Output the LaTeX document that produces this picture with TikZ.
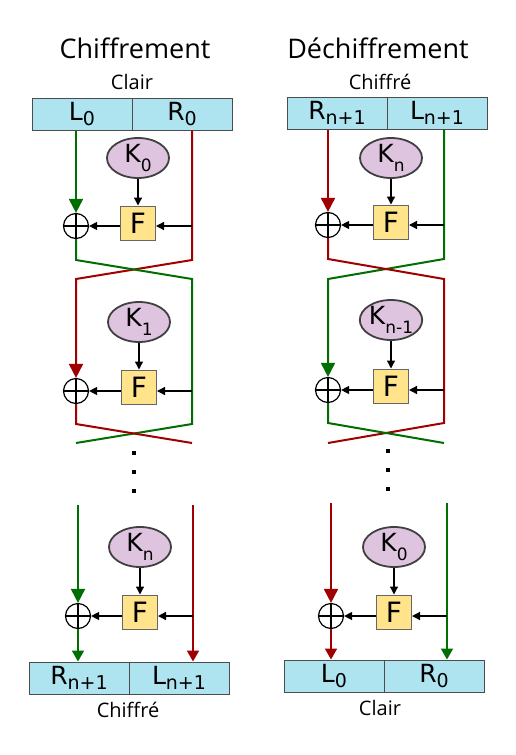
\documentclass[tikz,border=0pt]{standalone}
\usepackage{fontspec}
\setmainfont{Open Sans}
\newfontfamily\lblfont{DejaVu Sans}
\usetikzlibrary{positioning, arrows.meta, shapes.geometric, calc}
\definecolor{egreen}{RGB}{0,110,0}
\definecolor{ered}{RGB}{160,0,0}
\definecolor{halfblue}{RGB}{174,228,240}
\definecolor{keypink}{RGB}{222,196,222}
\definecolor{fyellow}{RGB}{255,228,140}
\newcommand{\lsub}[1]{\raisebox{-0.2em}{\fontsize{19}{19}\selectfont #1}}
\newcommand{\ksub}[1]{\raisebox{-0.35em}{\fontsize{17}{17}\selectfont #1}}

\begin{document}
\begin{tikzpicture}[x=1pt, y=-1pt,
  half/.style={draw=black!70, line width=1pt, fill=halfblue, minimum width=100pt, minimum height=32pt, inner sep=0pt, font=\lblfont\fontsize{25}{25}\selectfont},
  key/.style={ellipse, draw=black!75, line width=1.8pt, fill=keypink, minimum width=62pt, minimum height=40pt, inner sep=0pt, font=\lblfont\fontsize{25}{25}\selectfont},
  fbox/.style={draw=black!60, line width=1pt, fill=fyellow, minimum width=35pt, minimum height=34pt, inner sep=0pt, font=\lblfont\fontsize{28}{28}\selectfont},
  xor/.style={circle, draw, line width=1.2pt, minimum size=25pt, inner sep=0pt},
  wire/.style={line width=2pt},
  tipin/.style={-{Triangle[length=14pt, width=14pt]}},
  tipout/.style={-{Triangle[length=11pt, width=12pt]}},
  feed/.style={-{Triangle[length=8pt, width=8pt]}, line width=1.3pt},
  title/.style={font=\fontsize{27}{27}\selectfont},
  caption/.style={font=\fontsize{20}{20}\selectfont}]
  \useasboundingbox (0,0) rectangle (516,755);

  % Chiffrement
  \node[title] (eTitle) at (135,48) {Chiffrement};
  \node[caption] (eIn) at (132,82) {Clair};
  \node[half] (eL0) at (82,114) {L\lsub{0}};
  \node[half] (eR0) at (182,114) {R\lsub{0}};
  \node[key] (eK1) at (138,158) {K\ksub{0}};
  \node[fbox] (eF1) at (138,223) {F};
  \node[xor] (eX1) at (76,226) {};
  \coordinate (eB1) at (192,226);
  \node[key] (eK2) at (139,322) {K\ksub{1}};
  \node[fbox] (eF2) at (139,387) {F};
  \node[xor] (eX2) at (76,391) {};
  \coordinate (eB2) at (192,391);
  \node[key] (eK3) at (140,547) {K\ksub{n}};
  \node[fbox] (eF3) at (140,612) {F};
  \node[xor] (eX3) at (78,616) {};
  \coordinate (eB3) at (193,616);
  \node[half] (eRn) at (79,678) {R\lsub{n+1}};
  \node[half] (eLn) at (179,678) {L\lsub{n+1}};
  \node[caption] (eOut) at (128,710) {Chiffré};
  % crossings
  \coordinate (eC1) at (76,260); \coordinate (eC2) at (192,260);
  \coordinate (eC3) at (76,279); \coordinate (eC4) at (192,279);
  \coordinate (eC5) at (76,424); \coordinate (eC6) at (192,424);
  \coordinate (eC7) at (76,443); \coordinate (eC8) at (192,443);
  \coordinate (eT1) at (78,505); \coordinate (eT2) at (193,505);
  \draw[wire, egreen, tipin] (eL0.south -| eX1) -- (eX1.north);
  \draw[wire, ered, tipin] (eR0.south -| eB1) -- (eC2) -- (eC3) -- (eX2.north);
  \draw[wire, egreen] (eX1.south) -- (eC1) -- (eC4) -- (eC6) -- (eC7);
  \draw[wire, ered] (eX2.south) -- (eC5) -- (eC8);
  \draw[wire, egreen, tipin] (eT1) -- (eX3.north);
  \draw[wire, egreen, tipout] (eX3.south) -- (eRn.north -| eX3);
  \draw[wire, ered, tipout] (eT2) -- (eLn.north -| eT2);
  \foreach \y in {453,472,491} \fill (134,\y) ++(-2,-2) rectangle ++(4,4);

  % Dechiffrement
  \node[title] (dTitle) at (378,48) {Déchiffrement};
  \node[caption] (dIn) at (380,82) {Chiffré};
  \node[half] (dRn) at (337,113) {R\lsub{n+1}};
  \node[half] (dLn) at (437,113) {L\lsub{n+1}};
  \node[key] (dK1) at (391,158) {K\ksub{n}};
  \node[fbox] (dF1) at (391,222) {F};
  \node[xor] (dX1) at (328,225) {};
  \coordinate (dB1) at (444,225);
  \node[key] (dK2) at (391,320) {K\ksub{n-1}};
  \node[fbox] (dF2) at (391,386) {F};
  \node[xor] (dX2) at (328,390) {};
  \coordinate (dB2) at (444,390);
  \node[key] (dK3) at (394,547) {K\ksub{0}};
  \node[fbox] (dF3) at (394,612) {F};
  \node[xor] (dX3) at (331,616) {};
  \coordinate (dB3) at (447,616);
  \node[half] (dL0) at (334,676) {L\lsub{0}};
  \node[half] (dR0) at (434,676) {R\lsub{0}};
  \node[caption] (dOut) at (380,708) {Clair};
  % crossings
  \coordinate (dC1) at (328,259); \coordinate (dC2) at (444,259);
  \coordinate (dC3) at (328,279); \coordinate (dC4) at (444,279);
  \coordinate (dC5) at (328,423); \coordinate (dC6) at (444,423);
  \coordinate (dC7) at (328,443); \coordinate (dC8) at (444,443);
  \coordinate (dT1) at (331,503); \coordinate (dT2) at (447,503);
  \draw[wire, ered, tipin] (dRn.south -| dX1) -- (dX1.north);
  \draw[wire, egreen, tipin] (dLn.south -| dB1) -- (dC2) -- (dC3) -- (dX2.north);
  \draw[wire, ered] (dX1.south) -- (dC1) -- (dC4) -- (dC6) -- (dC7);
  \draw[wire, egreen] (dX2.south) -- (dC5) -- (dC8);
  \draw[wire, ered, tipin] (dT1) -- (dX3.north);
  \draw[wire, ered, tipout] (dX3.south) -- (dL0.north -| dX3);
  \draw[wire, egreen, tipout] (dT2) -- (dR0.north -| dT2);
  \foreach \y in {451,470,489} \fill (388,\y) ++(-2,-2) rectangle ++(4,4);

  % F inputs and outputs
  \foreach \p in {e,d} {
    \foreach \i in {1,2,3} {
      \draw[feed] (\p K\i) -- (\p F\i);
      \draw[feed] (\p B\i) -- (\p F\i.east |- \p B\i);
      \draw[feed] (\p F\i.west |- \p X\i) -- (\p X\i.east);
      \draw[line width=1.2pt] (\p X\i.north) -- (\p X\i.south) (\p X\i.west) -- (\p X\i.east);
    }
  }
\end{tikzpicture}
\end{document}
